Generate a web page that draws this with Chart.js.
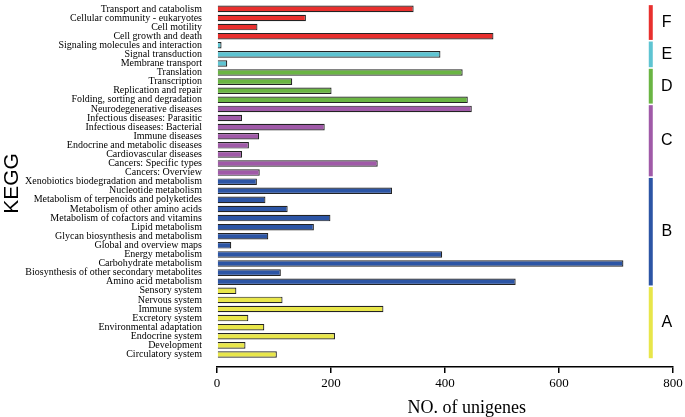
<!DOCTYPE html>
<html>
<head>
<meta charset="utf-8">
<script src="https://cdn.jsdelivr.net/npm/chart.js@4"></script>
<style>
  html, body { margin: 0; padding: 0; background: #fff; }
  #wrap { width: 685px; height: 417px; }
</style>
</head>
<body>
<div id="wrap"><canvas id="myChart"></canvas></div>
<script>
const categories = [
    "Transport and catabolism", "Cellular community - eukaryotes", "Cell motility", "Cell growth and death",
    "Signaling molecules and interaction", "Signal transduction", "Membrane transport",
    "Translation", "Transcription", "Replication and repair", "Folding, sorting and degradation",
    "Neurodegenerative diseases", "Infectious diseases: Parasitic", "Infectious diseases: Bacterial", "Immune diseases",
    "Endocrine and metabolic diseases", "Cardiovascular diseases", "Cancers: Specific types", "Cancers: Overview",
    "Xenobiotics biodegradation and metabolism", "Nucleotide metabolism", "Metabolism of terpenoids and polyketides",
    "Metabolism of other amino acids", "Metabolism of cofactors and vitamins", "Lipid metabolism",
    "Glycan biosynthesis and metabolism", "Global and overview maps", "Energy metabolism", "Carbohydrate metabolism",
    "Biosynthesis of other secondary metabolites", "Amino acid metabolism",
    "Sensory system", "Nervous system", "Immune system", "Excretory system", "Environmental adaptation",
    "Endocrine system", "Development", "Circulatory system"
]
const unigenes = [
    345, 156, 71, 485,
    8, 392, 18,
    431, 132, 201, 440,
    447, 44, 189, 74, 56, 44, 282, 75,
    70, 307, 85, 124, 199, 170, 90, 25, 395, 713, 112, 524,
    34, 115, 292, 55, 83, 207, 50, 105
]
const groupLetters = ["F", "E", "D", "C", "B", "A"]
const groupSizes = [4, 3, 4, 8, 12, 8]

const groupColors = {
    F: "rgb(232, 48, 46)",
    E: "rgb(94, 196, 210)",
    D: "rgb(106, 181, 67)",
    C: "rgb(160, 90, 168)",
    B: "rgb(44, 85, 165)",
    A: "rgb(232, 230, 74)"
}

// letter of each bar, from the group sizes
const barGroup = []
groupLetters.forEach((g, i) => {
    for (let k = 0; k < groupSizes[i]; k++) barGroup.push(g)
})

const stripPlugin = {
    id: "strip",
    afterDatasetsDraw(chart) {
        const { ctx, scales: { x, y } } = chart
        ctx.save()
        let start = 0
        groupLetters.forEach((g, i) => {
            const end = start + groupSizes[i] - 1
            const y1 = y.getPixelForValue(start - 0.5) + 0.8
            const y2 = y.getPixelForValue(end + 0.5) - 0.8
            const px = x.getPixelForValue(761)
            ctx.fillStyle = groupColors[g]
            ctx.fillRect(px - 2, y1, 4, y2 - y1)
            ctx.fillStyle = "#000"
            ctx.font = "16px 'Liberation Sans', sans-serif"
            ctx.textAlign = "center"
            ctx.textBaseline = "middle"
            ctx.fillText(g, x.getPixelForValue(789), (y1 + y2) / 2)
            start = end + 1
        })
        // x axis title, sits right of the axis centre in the original
        ctx.font = "18px 'Liberation Serif', serif"
        ctx.fillText("NO. of unigenes", x.getPixelForValue(438), x.bottom - 9)
        ctx.restore()
    }
}

const ctx = document.getElementById("myChart").getContext("2d")
new Chart(ctx, {
    type: "bar",
    data: {
        datasets: [{
            data: unigenes.map((v, i) => ({ x: v, y: i })),
            backgroundColor: barGroup.map(g => groupColors[g]),
            borderColor: "rgb(35, 35, 35)",
            borderWidth: 1.2,
            barPercentage: 0.72,
            categoryPercentage: 1
        }]
    },
    options: {
        indexAxis: "y",
        responsive: true,
        maintainAspectRatio: false,
        animation: false,
        layout: { padding: { top: 0, right: 12, bottom: 0, left: 0 } },
        plugins: {
            legend: { display: false },
            tooltip: { enabled: false }
        },
        scales: {
            x: {
                type: "linear",
                min: 0,
                max: 800,
                ticks: {
                    stepSize: 200,
                    color: "#000",
                    padding: 3,
                    font: { family: "'Liberation Serif', serif", size: 13 }
                },
                grid: { display: true, drawOnChartArea: false, drawTicks: true, tickLength: 6, color: "#000", lineWidth: 1.5 },
                border: { display: true, color: "#000", width: 1.5 },
                afterFit: s => { s.height = 50; s.paddingLeft = 0; s.paddingRight = 0 }
            },
            y: {
                type: "linear",
                reverse: true,
                min: -0.46,
                max: 38.86,
                ticks: {
                    stepSize: 1,
                    autoSkip: false,
                    includeBounds: false,
                    color: "#000",
                    padding: 7,
                    font: { family: "'Liberation Serif', serif", size: 10 },
                    callback: v => categories[v]
                },
                grid: { display: false },
                border: { display: false },
                title: {
                    display: true,
                    text: "KEGG",
                    color: "#000",
                    padding: 0,
                    font: { family: "'Liberation Sans', sans-serif", size: 21 }
                },
                afterFit: s => { s.width = 217; s.paddingTop = 0; s.paddingBottom = 0 }
            }
        }
    },
    plugins: [stripPlugin]
})
</script>
</body>
</html>
